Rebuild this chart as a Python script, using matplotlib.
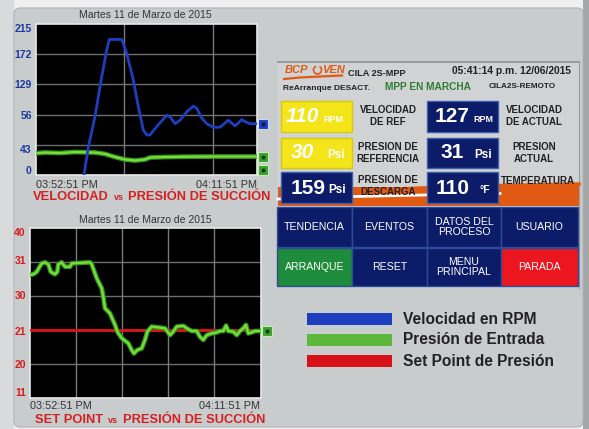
import matplotlib
matplotlib.use('Agg')
import matplotlib.pyplot as plt
import matplotlib.patheffects as pe
from matplotlib.patches import Rectangle, FancyBboxPatch, Arc

plt.rcParams['font.family'] = ['Liberation Sans', 'DejaVu Sans']

W, H = 589, 429

# ---------------- data ----------------
date_label = "Martes 11 de Marzo de 2015"
time_labels = ["03:52:51 PM", "04:11:51 PM"]
span_min = 19  # minutes between 03:52:51 and 04:11:51

# top chart: speed (RPM) and suction pressure, minutes from start
vel_t = [4.13, 4.50, 5.07, 5.65, 6.08, 6.30, 7.37, 7.80, 8.37, 8.80, 9.23, 9.52, 9.80,
         10.38, 11.24, 11.52, 11.95, 12.38, 12.96, 13.52, 13.82, 14.25, 14.68, 15.24,
         15.82, 16.25, 16.53, 16.82, 17.11, 17.39, 17.68, 17.97, 18.40, 18.97]
vel_v = [0, 40, 83, 140, 178, 193, 193, 173, 135, 97, 64, 57, 57,
         69, 85, 83, 73, 78, 90, 98, 95, 81, 73, 68,
         68, 74, 78, 74, 70, 74, 79, 76, 73, 73]
suc_top_t = [0, 0.77, 2.06, 3.35, 5.07, 5.93, 6.79, 7.65, 8.51, 9.37, 9.80, 11.09, 13.24, 15.82, 18.97]
suc_top_v = [31, 32, 31.3, 32.7, 32, 30, 25.6, 22.1, 20.6, 22.1, 24.9, 25.6, 26.1, 26.3, 26.3]
top_ticks = [209, 172, 129, 86, 37, 7]
top_ticklabels = ["215", "172", "129", "56", "43", "0"]
top_tag_vel = 73
top_tag_suc = [26.3, 7]

# bottom chart: set point vs suction pressure (display grid units)
bot_t = [0, 0.27, 0.55, 0.96, 1.24, 1.51, 1.71, 2.06, 2.25, 2.33, 2.61, 2.89, 3.30, 3.44,
         4.95, 5.09, 5.50, 5.91, 6.04, 6.18, 6.59, 7.01, 7.20, 7.56, 8.10, 8.38, 8.57,
         8.84, 9.21, 9.48, 9.67, 10.03, 10.72, 11.13, 11.54, 11.81, 12.09, 12.64, 12.92,
         13.33, 13.74, 14.01, 14.29, 14.57, 14.98, 15.39, 15.66, 15.93, 16.16, 16.35,
         16.76, 17.04, 17.31, 17.58, 17.80, 17.99, 18.27, 18.55, 18.96]
bot_v = [3.62, 3.64, 3.71, 3.96, 3.99, 3.93, 3.71, 3.64, 3.71, 3.93, 3.99, 3.86, 3.86, 3.96,
         3.99, 3.93, 3.52, 3.23, 2.98, 2.64, 2.49, 2.15, 1.95, 1.76, 1.61, 1.41, 1.31,
         1.41, 1.46, 1.71, 1.95, 2.10, 2.07, 2.05, 1.85, 1.95, 2.10, 2.12, 2.05,
         1.97, 1.97, 1.80, 1.71, 1.85, 1.90, 1.93, 1.97, 1.97, 2.13, 1.97,
         1.95, 1.85, 1.97, 2.05, 2.15, 1.90, 1.93, 1.97, 1.97]
setpoint = 2.0
bot_ticks = [4.88, 4.06, 3.03, 1.97, 1.0, 0.18]
bot_ticklabels = ["40", "31", "30", "21", "20", "11"]

legend_labels = ["Velocidad en RPM", "Presión de Entrada", "Set Point de Presión"]

C_BLUE = "#1d3fbf"
C_GREEN = "#7ddc3c"
C_GREEN_D = "#2f9a1e"
C_RED = "#e01414"
C_NAVY = "#0c1c68"
C_YEL = "#f4e41a"
C_ORANGE = "#e05a14"

fig = plt.figure(figsize=(W / 100, H / 100), dpi=100)
fig.patch.set_facecolor("#eeeeef")

bg = fig.add_axes([0, 0, 1, 1])
bg.set_xlim(0, W)
bg.set_ylim(H, 0)
bg.axis("off")

def rect(x0, y0, x1, y1, fc, ec="none", lw=0, z=1, **kw):
    bg.add_patch(Rectangle((x0, y0), x1 - x0, y1 - y0, facecolor=fc, edgecolor=ec, linewidth=lw, zorder=z, **kw))

def txt(x, y, s, size, color="#222222", weight="bold", ha="center", va="center", style="normal", z=5, **kw):
    bg.text(x, y, s, fontsize=size, color=color, fontweight=weight, ha=ha, va=va, fontstyle=style, zorder=z, **kw)

# outside areas
rect(0, 0, 14, H, "#d9dadb", z=0)
rect(583, 0, W, H, "#a3a5a7", z=0)
# main panel
bg.add_patch(FancyBboxPatch((14, 8), 569, 419, boxstyle="round,pad=0,rounding_size=6",
                            facecolor="#c9cccd", edgecolor="#b0b3b5", linewidth=0.8, zorder=0.5))

# ---------------- chart axes ----------------
def add_ax(x0, y0, x1, y1):
    return fig.add_axes([x0 / W, 1 - y1 / H, (x1 - x0) / W, (y1 - y0) / H])

green_fx = [pe.Stroke(linewidth=3.4, foreground=C_GREEN_D), pe.Normal()]

# top chart
ax1 = add_ax(36, 24, 257, 175)
ax1.set_facecolor("black")
ax1.set_xlim(0, span_min)
ax1.set_ylim(0, 215)
for yv in [43, 86, 129, 172]:
    ax1.axhline(yv, color="#6e6e6e", lw=1.0, zorder=1)
for xv in [0.4 * span_min, 0.8 * span_min]:
    ax1.axvline(xv, color="#7a7a7a", lw=1.0, zorder=1)
ax1.plot(suc_top_t, suc_top_v, color=C_GREEN, lw=1.6, path_effects=green_fx, zorder=3)
ax1.plot(vel_t, vel_v, color=C_BLUE, lw=2.0, zorder=4)
ax1.set_xticks([])
ax1.set_yticks(top_ticks)
ax1.set_yticklabels(top_ticklabels, fontsize=7.5, fontweight="bold", color="#1a3a9e")
ax1.tick_params(axis="y", length=0, pad=3)
for s in ax1.spines.values():
    s.set_color("#e8e8e8")
    s.set_linewidth(1.2)
tx = span_min + 0.5
ax1.plot([tx], [top_tag_vel], marker="s", ms=7.5, mfc=C_BLUE, mec="#c8d8ff", mew=0.8, clip_on=False, zorder=6)
ax1.plot([tx], [top_tag_vel], marker="o", ms=2.8, mfc="#08124a", mec="none", clip_on=False, zorder=7)
for v in top_tag_suc:
    ax1.plot([tx], [v], marker="s", ms=7.5, mfc="#3aa030", mec="#c0f0b0", mew=0.8, clip_on=False, zorder=6)
    ax1.plot([tx], [v], marker="o", ms=2.8, mfc="#0a3a10", mec="none", clip_on=False, zorder=7)

# bottom chart
ax2 = add_ax(30, 228, 260.5, 398)
ax2.set_facecolor("black")
ax2.set_xlim(0, span_min)
ax2.set_ylim(0, 5)
for yv in [1, 2, 3, 4]:
    ax2.axhline(yv, color="#6e6e6e", lw=1.0, zorder=1)
for xv in [0.2, 0.4, 0.6, 0.8]:
    ax2.axvline(xv * span_min, color="#7a7a7a", lw=1.0, zorder=1)
ax2.plot([0, span_min], [setpoint, setpoint], color=C_RED, lw=2.0, zorder=3)
ax2.plot(bot_t, bot_v, color=C_GREEN, lw=1.6, path_effects=green_fx, zorder=4)
ax2.set_xticks([])
ax2.set_yticks(bot_ticks)
ax2.set_yticklabels(bot_ticklabels, fontsize=7.5, fontweight="bold", color="#d81c1c")
ax2.tick_params(axis="y", length=0, pad=3)
for s in ax2.spines.values():
    s.set_color("#e8e8e8")
    s.set_linewidth(1.2)
ax2.plot([tx], [bot_v[-1]], marker="s", ms=7.5, mfc="#3aa030", mec="#c0f0b0", mew=0.8, clip_on=False, zorder=6)
ax2.plot([tx], [bot_v[-1]], marker="o", ms=2.8, mfc="#0a3a10", mec="none", clip_on=False, zorder=7)

# chart texts
txt(145, 15, date_label, 7.5, color="#333333", weight="normal")
txt(36, 185, time_labels[0], 7.8, color="#333333", weight="normal", ha="left")
txt(257, 185, time_labels[1], 7.8, color="#333333", weight="normal", ha="right")
txt(109, 200, "VELOCIDAD", 9.3, color="#d42020", ha="right", va="baseline")
txt(118.5, 200, "vs", 6.5, color="#d42020", va="baseline")
txt(128, 200, "PRESIÓN DE SUCCIÓN", 9.3, color="#d42020", ha="left", va="baseline")

txt(145, 220, date_label, 7.5, color="#333333", weight="normal")
txt(30, 406, time_labels[0], 7.8, color="#333333", weight="normal", ha="left")
txt(260, 406, time_labels[1], 7.8, color="#333333", weight="normal", ha="right")
txt(103, 423, "SET POINT", 9.3, color="#d42020", ha="right", va="baseline")
txt(112.5, 423, "vs", 6.5, color="#d42020", va="baseline")
txt(123, 423, "PRESIÓN DE SUCCIÓN", 9.3, color="#d42020", ha="left", va="baseline")

# ---------------- right panel ----------------
rect(278, 62, 579, 288, "#d0d2d3", z=1)
bg.plot([278, 579], [62, 62], color="#8e9092", lw=1.2, zorder=2)
bg.plot([579, 579], [62, 288], color="#9a9c9e", lw=0.8, zorder=2)

# logo
txt(285, 70, "BCP", 8, color=C_ORANGE, ha="left", style="italic")
bg.add_patch(Arc((317.5, 70), 8, 8, theta1=-60, theta2=250, color=C_ORANGE, lw=1.2, zorder=5))
txt(322, 70, "VEN", 8, color=C_ORANGE, ha="left", style="italic")
bg.plot([284, 300, 320, 342], [79, 77.5, 76.5, 75.5], color=C_ORANGE, lw=1.6, zorder=5)

txt(348, 74, "CILA 2S-MPP", 6.6, ha="left")
txt(571, 71, "05:41:14 p.m. 12/06/2015", 7.4, ha="right")
txt(283, 88.5, "ReArranque DESACT.", 6.0, ha="left")
txt(428, 87, "MPP EN MARCHA", 7.3, color="#2e7d32")
txt(522, 87, "CILA2S-REMOTO", 5.9)

# orange swoosh band behind third row
rect(278, 187, 579, 206, C_ORANGE, z=2)
bg.plot([278, 330, 400, 470, 500], [199, 197, 195.5, 194, 193.5], color="white", lw=2.0, zorder=2.5)
bg.plot([355, 420, 500, 579], [191, 188, 185.5, 184], color=C_ORANGE, lw=2.5, zorder=2.5)
rect(500, 184, 579, 190, C_ORANGE, z=2)

def box(x0, y0, x1, y1, fc, ec):
    rect(x0, y0, x1, y1, fc, ec=ec, lw=1.0, z=3)

# row 1
box(281, 101, 352, 132, C_YEL, "#d8c80a")
txt(302, 117, "110", 15, color="white", style="italic")
txt(333, 119, "RPM", 6.5, color="white")
txt(388, 116, "VELOCIDAD\nDE REF", 7.0, linespacing=1.15)
box(427, 101, 498, 132, C_NAVY, "#3c5cb0")
txt(452, 117, "127", 15, color="white")
txt(483, 119, "RPM", 6.5, color="white")
txt(534, 116, "VELOCIDAD\nDE ACTUAL", 7.0, linespacing=1.15)
# row 2
box(281, 138, 352, 168, C_YEL, "#d8c80a")
txt(302, 153, "30", 15, color="white", style="italic")
txt(336, 155, "Psi", 8.5, color="white")
txt(388, 153, "PRESION DE\nREFERENCIA", 7.0, linespacing=1.15)
box(427, 138, 498, 168, C_NAVY, "#3c5cb0")
txt(452, 153, "31", 15, color="white")
txt(483, 155, "Psi", 8.5, color="white")
txt(534, 153, "PRESION\nACTUAL", 7.0, linespacing=1.15)
# row 3
box(281, 172, 352, 203, C_NAVY, "#3c5cb0")
txt(308, 188, "159", 15, color="white")
txt(337, 190, "Psi", 8.5, color="white")
txt(388, 186, "PRESION DE\nDESCARGA", 7.0, linespacing=1.15, z=6)
box(427, 172, 498, 203, C_NAVY, "#3c5cb0")
txt(453, 188, "110", 15, color="white")
txt(485, 190, "°F", 7.5, color="white")
txt(538, 181, "TEMPERATURA", 7.0, z=6)

# buttons
cols = [(277, 352), (352, 427), (427, 501), (501, 578)]
row1 = ["TENDENCIA", "EVENTOS", "DATOS DEL\nPROCESO", "USUARIO"]
row2 = ["ARRANQUE", "RESET", "MENU\nPRINCIPAL", "PARADA"]
row2_fc = ["#1e8c3a", C_NAVY, C_NAVY, "#ec1620"]
for (x0, x1), lab in zip(cols, row1):
    rect(x0, 207, x1, 247, C_NAVY, ec="#2e4a9a", lw=1.0, z=3)
    txt((x0 + x1) / 2, 227, lab, 7.6, color="white", weight="normal", linespacing=1.1)
for (x0, x1), lab, fc in zip(cols, row2, row2_fc):
    rect(x0, 248, x1, 286, fc, ec="#2e4a9a", lw=1.0, z=3)
    txt((x0 + x1) / 2, 267, lab, 7.6, color="white", weight="normal", linespacing=1.1)

# legend
for i, (lab, c) in enumerate(zip(legend_labels, [C_BLUE, "#5cb83a", "#d8101a"])):
    y0 = 313 + i * 21
    rect(307, y0, 392, y0 + 12, c, z=3)
    txt(403, y0 + 6, lab, 11.2, ha="left")

fig.savefig("out.png", dpi=100, facecolor=fig.get_facecolor())
